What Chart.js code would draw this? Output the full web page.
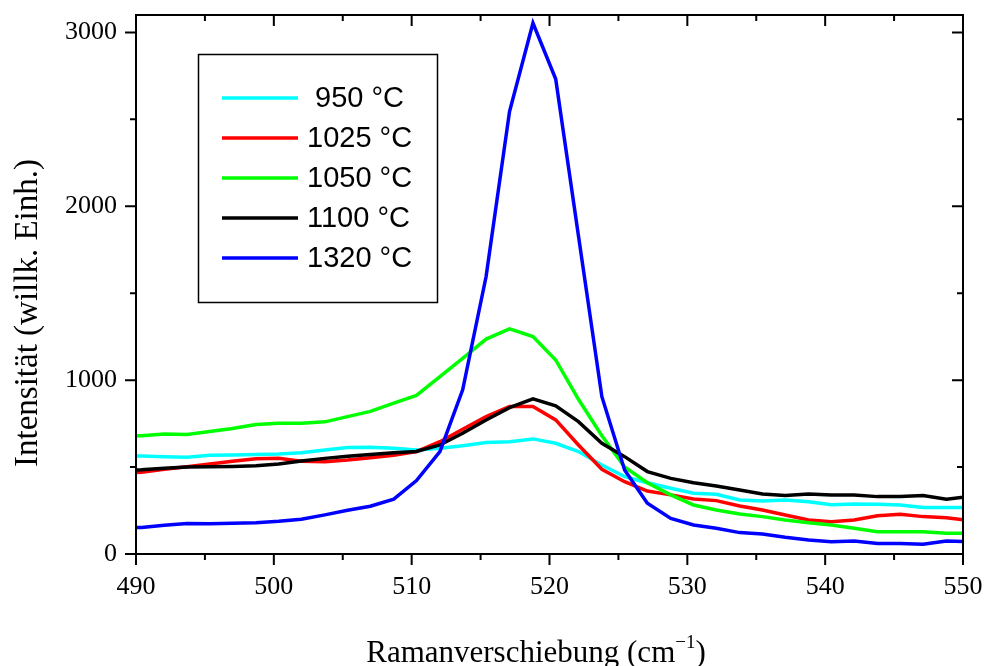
<!DOCTYPE html>
<html>
<head>
<meta charset="utf-8">
<script src="https://cdn.jsdelivr.net/npm/chart.js@4/dist/chart.umd.min.js"></script>
<style>
  body { margin: 0; background: #fff; }
  canvas { display: block; }
</style>
</head>
<body>
<canvas id="canvas" width="985" height="666"></canvas>
<script>
// Raman shift (cm-1)
var shift = [488.75, 490.4, 492.05, 493.7, 495.35, 497.0, 498.7, 500.35, 502.0, 503.7,
  505.35, 507.0, 508.7, 510.35, 512.05, 513.7, 515.4, 517.1, 518.8, 520.45,
  522.1, 523.8, 525.45, 527.1, 528.8, 530.45, 532.1, 533.8, 535.45, 537.1,
  538.8, 540.45, 542.1, 543.8, 545.45, 547.1, 548.8, 550.45];

var t950 = [562, 564, 560, 556, 568, 570, 572, 575, 583, 598,
  612, 614, 608, 598, 608, 623, 641, 646, 662, 637,
  589, 512, 445, 410, 378, 350, 343, 311, 305, 310,
  301, 283, 288, 286, 282, 268, 267, 267];
var t1025 = [465, 470, 487, 502, 517, 534, 548, 550, 533, 531,
  540, 553, 568, 589, 646, 718, 790, 848, 848, 771,
  627, 487, 416, 362, 340, 316, 307, 276, 253, 224,
  196, 186, 196, 220, 228, 215, 209, 192];
var t1050 = [678, 680, 690, 688, 705, 722, 745, 752, 752, 760,
  790, 820, 868, 912, 1020, 1125, 1236, 1295, 1251, 1116,
  890, 680, 500, 410, 340, 282, 253, 230, 215, 196,
  180, 167, 148, 128, 128, 128, 119, 119];
var t1100 = [480, 484, 493, 500, 502, 503, 507, 518, 535, 550,
  562, 572, 582, 590, 627, 694, 771, 842, 892, 852,
  761, 637, 560, 474, 435, 410, 391, 368, 345, 336,
  345, 340, 340, 330, 330, 336, 315, 330];
var t1320 = [150, 153, 165, 176, 174, 177, 180, 188, 200, 225,
  252, 275, 316, 422, 589, 944, 1596, 2545, 3054, 2732,
  1830, 905, 483, 292, 205, 167, 148, 123, 115, 96,
  81, 71, 75, 61, 61, 56, 75, 71];

var seriesNames = [' 950 °C', '1025 °C', '1050 °C', '1100 °C', '1320 °C'];
var seriesColors = ['#00ffff', '#ff0000', '#00ff00', '#000000', '#0000ff'];
var seriesValues = [t950, t1025, t1050, t1100, t1320];

var xTickLabels = [490, 500, 510, 520, 530, 540, 550];
var xMinorTicks = [495, 505, 515, 525, 535, 545];
var yTickLabels = [0, 1000, 2000, 3000];
var yMinorTicks = [500, 1500, 2500];

var serifFont = '"Liberation Serif", "Times New Roman", serif';
var sansFont = '"Liberation Sans", Arial, sans-serif';

var datasets = seriesValues.map(function(vals, i) {
  return {
    label: seriesNames[i],
    data: vals.map(function(v, k) { return {x: shift[k], y: v}; }),
    borderColor: seriesColors[i],
    backgroundColor: seriesColors[i],
    borderWidth: 3.5,
    pointRadius: 0,
    tension: 0,
    clip: 0,
    order: seriesValues.length - i
  };
});

// frame, ticks on all four sides, legend box and axis titles
var decorations = {
  id: 'decorations',
  afterDraw: function(chart) {
    var ctx = chart.ctx;
    var a = chart.chartArea;
    var x = chart.scales.x, y = chart.scales.y;
    ctx.save();
    ctx.strokeStyle = '#000';
    ctx.lineWidth = 2;
    ctx.strokeRect(a.left, a.top, a.right - a.left, a.bottom - a.top);

    ctx.beginPath();
    xTickLabels.concat(xMinorTicks).forEach(function(v) {
      var px = x.getPixelForValue(v);
      var len = xTickLabels.indexOf(v) >= 0 ? 11 : 6;
      ctx.moveTo(px, a.bottom); ctx.lineTo(px, a.bottom + len);
      ctx.moveTo(px, a.top); ctx.lineTo(px, a.top + len);
    });
    yTickLabels.concat(yMinorTicks).forEach(function(v) {
      var py = y.getPixelForValue(v);
      var len = yTickLabels.indexOf(v) >= 0 ? 11 : 6;
      ctx.moveTo(a.left, py); ctx.lineTo(a.left - len, py);
      ctx.moveTo(a.right, py); ctx.lineTo(a.right - len, py);
    });
    ctx.stroke();

    // legend
    ctx.lineWidth = 1.5;
    ctx.strokeRect(198.5, 54.5, 239, 248);
    ctx.font = '29px ' + sansFont;
    ctx.textBaseline = 'middle';
    ctx.textAlign = 'left';
    chart.data.datasets.forEach(function(ds, i) {
      var ly = 98 + i * 40;
      ctx.strokeStyle = ds.borderColor;
      ctx.lineWidth = 3.5;
      ctx.beginPath();
      ctx.moveTo(222, ly); ctx.lineTo(298, ly);
      ctx.stroke();
      ctx.fillStyle = '#000';
      ctx.fillText(ds.label, 307, ly + 1);
    });

    // x title with superscript
    ctx.fillStyle = '#000';
    ctx.textBaseline = 'alphabetic';
    ctx.font = '31px ' + serifFont;
    var main = 'Ramanverschiebung (cm';
    var w1 = ctx.measureText(main).width;
    ctx.font = '19px ' + serifFont;
    var sup = '\u22121';
    var w2 = ctx.measureText(sup).width;
    ctx.font = '31px ' + serifFont;
    var w3 = ctx.measureText(')').width;
    var x0 = 536 - (w1 + w2 + w3) / 2;
    ctx.fillText(main, x0, 662);
    ctx.font = '19px ' + serifFont;
    ctx.fillText(sup, x0 + w1, 648);
    ctx.font = '31px ' + serifFont;
    ctx.fillText(')', x0 + w1 + w2, 662);

    // y title
    ctx.translate(28, 313);
    ctx.rotate(-Math.PI / 2);
    ctx.font = '33px ' + serifFont;
    ctx.textAlign = 'center';
    ctx.textBaseline = 'middle';
    ctx.fillText('Intensität (willk. Einh.)', 0, 0);
    ctx.restore();
  }
};

window.onload = function() {
  new Chart(document.getElementById('canvas'), {
    type: 'line',
    data: { datasets: datasets },
    options: {
      responsive: false,
      animation: false,
      events: [],
      layout: { padding: { left: 0, right: 22, top: 15, bottom: 0 } },
      plugins: { legend: { display: false }, tooltip: { enabled: false } },
      scales: {
        x: {
          type: 'linear',
          min: 490,
          max: 550,
          grid: { display: false },
          border: { display: false },
          afterBuildTicks: function(scale) {
            scale.ticks = xTickLabels.map(function(v) { return {value: v}; });
          },
          afterFit: function(scale) {
            scale.height = 112;
            scale.paddingLeft = 0; scale.paddingRight = 0;
          },
          ticks: {
            padding: 10,
            maxRotation: 0,
            autoSkip: false,
            color: '#000',
            font: { family: serifFont, size: 26 },
            callback: function(v) { return String(v); }
          }
        },
        y: {
          type: 'linear',
          min: 0,
          max: 3100,
          grid: { display: false },
          border: { display: false },
          afterBuildTicks: function(scale) {
            scale.ticks = yTickLabels.map(function(v) { return {value: v}; });
          },
          afterFit: function(scale) {
            scale.width = 136;
            scale.paddingTop = 0; scale.paddingBottom = 0;
          },
          ticks: {
            padding: 11,
            color: '#000',
            font: { family: serifFont, size: 26 },
            callback: function(v) { return String(v); }
          }
        }
      }
    },
    plugins: [decorations]
  });
};
</script>
</body>
</html>
